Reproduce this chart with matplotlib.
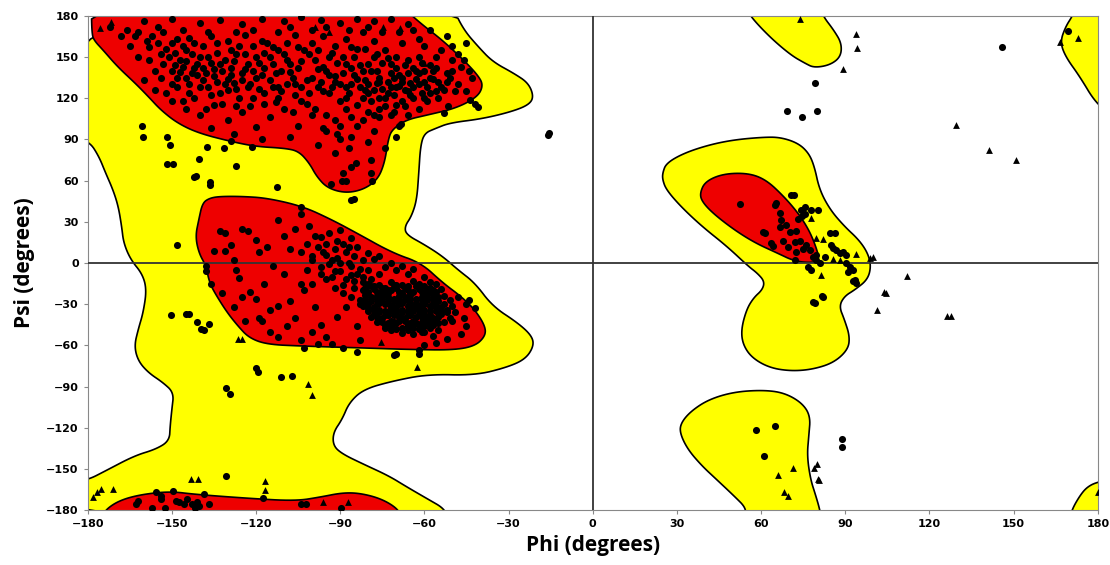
import numpy as np
import matplotlib
matplotlib.use("Agg")
import matplotlib.pyplot as plt
from matplotlib.patches import Polygon

# region outlines (phi, psi)
yellow_left = [(-185, 185), (-49.7, 185), (-45.9, 169.6), (-40.8, 157.5), (-35.7, 146.6), (-28, 138),
               (-22.9, 131), (-21, 121), (-22.9, 115), (-29.3, 110), (-39.5, 105), (-51, 102), (-56, 98),
               (-60, 94.5), (-61.4, 85), (-62, 65.5), (-62.7, 46), (-64.6, 34), (-67, 26.7), (-66.5, 20.7),
               (-60, 13.4), (-53.6, 5), (-48, -5), (-42, -14.5), (-35.7, -31.5), (-26.7, -43.6),
               (-21.7, -53), (-21, -60.5), (-24, -70), (-30.6, -76), (-42, -81.8), (-58.7, -81),
               (-71.4, -86), (-81.7, -92), (-86.8, -101.7), (-89.3, -113.8), (-92.5, -123.5),
               (-92.5, -133), (-89.3, -139), (-81.7, -146.5), (-72.7, -155), (-66.3, -163), (-58.7, -172),
               (-53, -178.7), (-51.6, -186), (-186, -186), (-186, -159), (-180, -158), (-173.6, -151.3),
               (-163.4, -140.4), (-155.7, -135.6), (-150.9, -129.5), (-150.6, -118.6), (-150, -106.5),
               (-149.3, -94.4), (-153.2, -87), (-158.3, -80), (-162, -71.4), (-163.4, -60.5), (-162, -48.4),
               (-160.2, -36), (-159, -19.4), (-160.5, -8), (-164.7, 2.5), (-167.2, 14.6), (-167.9, 26.7),
               (-169.1, 41.3), (-171, 53.4), (-173.6, 65.5), (-176, 77.6), (-179.4, 88.5), (-186, 92)]
red_beta = [(-178.7, 186), (-178.5, 167), (-177.7, 162), (-174.5, 155), (-169.4, 143), (-163, 130.8),
            (-158.3, 121), (-154, 111.5), (-148, 101.8), (-140.4, 94.5), (-129, 88.5), (-120, 84.8),
            (-109.8, 83.6), (-104.8, 81.4), (-101, 72.7), (-98.4, 63), (-94.6, 54.6), (-88.2, 50.9),
            (-81.8, 53.4), (-76.7, 60.6), (-74.2, 72.7), (-72.9, 89.7), (-71.6, 97), (-66.6, 104.2),
            (-58.9, 107.8), (-48.7, 112.7), (-41, 121), (-39, 129.6), (-41, 136.9), (-46, 147.8),
            (-53.6, 162.3), (-61.3, 174.4), (-67.6, 186)]
red_alpha = [(-136.5, 47.3), (-139.1, 43.7), (-140.4, 31.6), (-141.6, 19.5), (-140.4, 7.4), (-137.8, -2.3),
             (-136.6, -14.5), (-134, -24.2), (-130.2, -36.3), (-126.4, -46), (-122.5, -54.5),
             (-116.1, -59.3), (-103.4, -60.5), (-84.2, -61.7), (-65, -63), (-49.8, -63.4), (-42, -60.5),
             (-38.3, -53.3), (-38.3, -46), (-42, -34), (-47, -24.2), (-53.4, -14.5), (-61.2, 0.1),
             (-71.4, 7.4), (-84.2, 21.9), (-93.1, 31.6), (-103.4, 41.3), (-116.1, 47.3), (-125, 48.5),
             (-132.7, 48.5)]
red_bottom = [(-175, -186), (-173.6, -179.5), (-168.5, -172.7), (-160.8, -168.5), (-150.6, -166.3),
              (-141.6, -168.5), (-122.5, -171.4), (-105.9, -173.3), (-97, -170.4), (-89.3, -167.3),
              (-82.9, -167.6), (-75.3, -171.7), (-69.5, -178.9), (-68, -186)]
yellow_top_mid = [(55, 186), (56, 180), (63, 164.7), (70.6, 151.4), (75.7, 145.4), (78.9, 142.2),
                  (84.6, 144.2), (88.4, 150.2), (88.7, 160), (85.9, 169.6), (82, 180), (81.5, 186)]
yellow_lh = [(24.9, 60.6), (24.9, 65.5), (26.2, 72.7), (32.5, 80), (41.4, 86), (50.3, 89.7), (60.5, 91.6),
             (66.8, 91.6), (73.2, 87.3), (77, 80), (79, 70.3), (80.8, 53.4), (84.6, 38.8), (89.7, 26.7),
             (94.8, 17), (98, 7.4), (99.2, -2.3), (98, -12), (93.5, -19.4), (89.7, -24.2), (87.8, -31.5),
             (89.7, -41.2), (91.6, -53.3), (91, -63), (85.9, -72.6), (78.3, -77.5), (70.6, -78.7),
             (63, -76.3), (56.7, -69), (53.5, -59.3), (52.9, -48.4), (54.8, -33.9), (57.3, -25.4),
             (60.5, -19.4), (61.2, -13.3), (58.6, -7.3), (55.4, -2.3), (47.8, 12.2), (38.9, 26.7),
             (31.3, 41.3), (26.2, 53.4)]
red_lh = [(38.2, 50.9), (40.1, 59.4), (46.5, 65), (55.4, 65.5), (61.8, 60.6), (68.1, 48.5), (73.2, 36.4),
          (77, 24.3), (79.5, 12.2), (80.8, 2.5), (78.3, 0.1), (71.9, 1.3), (65.6, 7.4), (57.9, 14.6),
          (50.3, 24.3), (42.7, 36.4), (38.9, 44.9)]
yellow_low_mid = [(54, -186), (54.8, -178.7), (50.3, -169.5), (44, -157.4), (38.9, -147.7), (33.8, -135.6),
                  (31, -123.5), (31.5, -116.2), (35.1, -107.7), (41.4, -99.3), (50.3, -93.9), (60.5, -92.5),
                  (68.1, -94.4), (74.5, -101.7), (77.6, -111.4), (77, -125.9), (76.4, -140.4),
                  (77.6, -157.4), (79.5, -169.5), (80.8, -178.7), (81.5, -186)]
yellow_top_right = [(172, 186), (171, 180), (168.5, 172), (166.6, 161), (168.5, 150.2), (173.6, 135.7),
                    (179.3, 116.3), (186, 106), (186, 186)]
yellow_bot_right = [(170, -186), (171, -178.7), (173.6, -169.5), (176, -163.5), (179.3, -159.8),
                    (186, -157), (186, -186)]

# residues: circles (general) and triangles (glycine)
beta_pts = [(-172, 172), (-168, 165), (-160, 176), (-155, 172), (-150, 178), (-146, 170), (-140, 175),
            (-133, 177), (-125, 174), (-118, 178), (-110, 176), (-104, 179), (-97, 177), (-90, 175),
            (-84, 178), (-78, 176), (-72, 178), (-66, 174), (-165, 158), (-162, 150), (-158, 157),
            (-154, 152), (-150, 160), (-147, 148), (-145, 155), (-142, 142), (-140, 150), (-138, 138),
            (-136, 146), (-134, 153), (-132, 140), (-130, 134), (-128, 147), (-126, 158), (-124, 141),
            (-122, 130), (-120, 150), (-118, 137), (-116, 160), (-114, 145), (-112, 128), (-110, 152),
            (-108, 139), (-106, 122), (-104, 147), (-102, 133), (-100, 160), (-98, 141), (-96, 125),
            (-94, 150), (-92, 136), (-90, 118), (-88, 145), (-86, 130), (-84, 156), (-82, 140), (-80, 124),
            (-78, 150), (-76, 135), (-74, 114), (-72, 145), (-70, 128), (-68, 160), (-66, 138), (-64, 120),
            (-62, 150), (-60, 132), (-58, 144), (-56, 125), (-54, 155), (-52, 138), (-50, 148), (-48, 130),
            (-47, 143), (-45, 125), (-150, 140), (-148, 135), (-146, 143), (-144, 130), (-143, 138),
            (-141, 145), (-139, 133), (-137, 128), (-135, 141), (-133, 124), (-131, 148), (-129, 137),
            (-127, 127), (-125, 133), (-123, 145), (-121, 120), (-119, 127), (-117, 142), (-115, 133),
            (-113, 117), (-111, 140), (-109, 130), (-85, 137), (-83, 128), (-81, 133), (-79, 118),
            (-77, 140), (-75, 127), (-73, 132), (-71, 122), (-69, 137), (-67, 126), (-65, 131), (-63, 140),
            (-61, 124), (-59, 118), (-57, 134), (-80, 145), (-76, 120), (-72, 138), (-68, 118), (-64, 128),
            (-70, 150), (-74, 155), (-78, 162), (-82, 168), (-88, 163), (-92, 158), (-96, 165), (-100, 170),
            (-106, 166), (-112, 168), (-118, 162), (-124, 166), (-130, 162), (-136, 165), (-142, 160),
            (-148, 163), (-150, 118), (-145, 112), (-140, 108), (-135, 115), (-130, 104), (-125, 110),
            (-120, 99), (-115, 106), (-110, 112), (-105, 100), (-100, 108), (-95, 96), (-92, 104), (-88, 112),
            (-86, 92), (-84, 100), (-80, 88), (-78, 96), (-76, 106), (-74, 84), (-70, 92), (-66, 108),
            (-62, 112), (-136, 98), (-128, 94), (-118, 90), (-108, 92), (-98, 86), (-90, 90), (-156, 126),
            (-160, 133), (-152, 124), (-142, 120), (-132, 116), (-122, 114), (-112, 120), (-102, 116),
            (-94, 124), (-48, 152), (-46, 148), (-44, 140), (-43, 135), (-45, 160), (-52, 165), (-58, 170),
            (-62, 163), (-96, 143), (-94, 137), (-90, 130), (-86, 142), (-100, 135), (-104, 128),
            (-108, 145), (-112, 155), (-153, 145), (-151, 150), (-149, 144), (-147, 139), (-145, 147),
            (-143, 152), (-141, 137), (-139, 142), (-137, 150), (-135, 136), (-133, 145), (-131, 130),
            (-129, 142), (-127, 152), (-125, 138), (-123, 128), (-121, 140), (-119, 146), (-117, 124),
            (-115, 150), (-113, 138), (-111, 125), (-109, 148), (-107, 135), (-105, 142), (-103, 155),
            (-101, 124), (-99, 148), (-97, 132), (-95, 140), (-93, 128), (-91, 146), (-89, 138), (-87, 124),
            (-85, 150), (-83, 144), (-81, 126), (-79, 140), (-77, 131), (-75, 146), (-73, 124), (-71, 135),
            (-69, 129), (-67, 144), (-65, 122), (-63, 134), (-61, 146), (-59, 128), (-57, 140), (-55, 132),
            (-53, 126), (-51, 135), (-88, 120), (-84, 115), (-80, 110), (-76, 112), (-72, 108), (-82, 120),
            (-78, 126), (-74, 120), (-70, 115), (-66, 125), (-62, 130), (-58, 124), (-140, 128), (-136, 122),
            (-130, 126), (-126, 120), (-144, 124), (-148, 128), (-156, 140), (-158, 148), (-163, 165),
            (-157, 165), (-153, 168), (-137, 168), (-127, 168), (-121, 170), (-108, 172), (-95, 172),
            (-87, 170), (-80, 172), (-75, 168), (-69, 168), (-64, 170), (-60, 158), (-56, 150), (-50, 158),
            (-96, 98), (-91, 94), (-87, 84), (-92, 80), (-86, 70),
            (-166, 170), (-162, 168), (-159, 162), (-155, 160), (-152, 156), (-149, 153), (-146, 158),
            (-144, 164), (-139, 158), (-134, 160), (-129, 155), (-124, 152), (-121, 158), (-117, 153),
            (-114, 157), (-109, 160), (-105, 157), (-101, 152), (-98, 155), (-93, 153), (-89, 150),
            (-86, 157), (-81, 156), (-77, 152), (-73, 149), (-70, 142), (-68, 135), (-66, 148), (-64, 142),
            (-62, 138), (-60, 140), (-58, 135), (-56, 142), (-54, 128), (-52, 132), (-50, 140), (-49, 125),
            (-55, 120), (-60, 120), (-67, 114), (-71, 110), (-78, 108), (-86, 106), (-82, 104), (-90, 100),
            (-95, 108), (-99, 112), (-104, 118), (-107, 110), (-117, 116), (-127, 114), (-138, 112),
            (-146, 118), (-150, 130), (-154, 135), (-145, 135), (-134, 132), (-128, 131), (-120, 135),
            (-114, 128), (-106, 130), (-98, 128), (-92, 132), (-88, 128), (-84, 134), (-80, 130), (-76, 132),
            (-72, 128), (-68, 132),
            (-160.8, 99.9), (-160.2, 91.6), (-151.9, 92.1), (-150.6, 85.6),
            (-151.9, 71.8), (-149.6, 71.8), (-140.4, 75.6), (-142, 62.8), (-141.3, 63.3), (-136.3, 58.7),
            (-136.3, 56.5), (-137.5, 84.8), (-131.5, 83.4), (-127.3, 71), (-128.9, 88.7), (-121.3, 84.6),
            (-112.6, 55.1), (-86.1, 46.1), (-85, 46.6), (-93.2, 57.7), (-89.3, 59.4), (-88, 59.4),
            (-84.2, 72.7), (-79.1, 75.2), (-79.1, 65.5), (-78.5, 59.4), (-89.1, 65.7), (-68.9, 99.9),
            (-68.3, 101.3), (-52.9, 109.1), (-51.6, 114.4), (-42.1, 115.8), (-40.8, 113.4), (-43.9, 118.7),
            (-148.3, 13.4), (-16, 93), (-15.5, 95)]
alpha_pts = [(-133, 23), (-131, 22), (-135, 9), (-131, 9), (-129, 13), (-125, 25), (-123, 23), (-120, 17),
             (-119, 8), (-112, 31), (-104, 41), (-104, 36), (-106, 25), (-101, 27), (-97, 19), (-95, 14),
             (-90, 24), (-86, 18), (-89, 14), (-138, -2), (-138, -6), (-136, -15), (-132, -22), (-128, -32),
             (-127, -5), (-126, -11), (-122, -21), (-124, -42), (-119, -40), (-118, -42), (-115, -34),
             (-112, -31), (-112, -54), (-108, -28), (-106, -40), (-104, -56), (-104, -15), (-103, -20),
             (-100, -15), (-99, -32), (-97, -45), (-95, -54), (-93, -59), (-91, -39), (-88, -32), (-84, -46),
             (-83, -56), (-116, 12), (-110, 20), (-108, 10), (-100, 5), (-96, 8), (-93, 2), (-92, -6),
             (-97, -3), (-102, -5), (-110, -8), (-114, -2), (-117, -15), (-120, -26), (-128, 2), (-125, -25),
             (-109, -46), (-100, -50), (-115, -50), (-92, 10), (-88, 8), (-85, 5), (-90, 0), (-86, -2),
             (-82, 2), (-84, -8), (-80, -5), (-78, 3), (-76, -8), (-88, -12), (-85, -18), (-82, -14),
             (-79, -12), (-95, -12), (-92, -18), (-89, -22), (-86, -25), (-83, -30), (-80, 7), (-76, 5),
             (-72, 0), (-70, -5), (-74, -3), (-68, -2), (-66, -8), (-64, -4), (-60, -10), (-62, -15),
             (-58, -14), (-80, -15), (-76, -16), (-72, -14), (-68, -16), (-64, -13), (-60, -17), (-56, -15),
             (-82, -20), (-78, -19), (-74, -21), (-70, -18), (-66, -20), (-62, -19), (-58, -21), (-54, -19),
             (-81, -23), (-77, -24), (-73, -22), (-69, -24), (-65, -23), (-61, -25), (-57, -23), (-53, -24),
             (-83, -27), (-79, -28), (-75, -26), (-71, -28), (-67, -27), (-63, -29), (-59, -27), (-55, -28),
             (-51, -27), (-82, -31), (-78, -32), (-74, -30), (-70, -32), (-66, -31), (-62, -33), (-58, -31),
             (-54, -32), (-50, -31), (-80, -35), (-76, -36), (-72, -34), (-68, -36), (-64, -35), (-60, -37),
             (-56, -35), (-52, -36), (-79, -39), (-75, -40), (-71, -38), (-67, -40), (-63, -39), (-59, -41),
             (-55, -39), (-51, -40), (-77, -43), (-73, -44), (-69, -42), (-65, -44), (-61, -43), (-57, -45),
             (-53, -43), (-74, -47), (-70, -48), (-66, -46), (-62, -48), (-58, -47), (-55, -49), (-68, -51),
             (-64, -52), (-60, -50), (-57, -53), (-48, -25), (-45, -30), (-44, -27), (-42, -33), (-46, -40),
             (-45, -46), (-50, -42), (-49, -36), (-47, -52), (-52, -55), (-56, -58), (-60, -60), (-62, -63),
             (-62, -66), (-84, -65), (-70, -66), (-71, -67), (-103, -62), (-89, -62), (-98, -59),
             (-78, -17), (-74, -18), (-70, -16), (-66, -17), (-62, -16), (-58, -18), (-80, -21), (-76, -22),
             (-72, -20), (-68, -22), (-64, -21), (-60, -22), (-56, -21), (-79, -25), (-75, -24), (-71, -26),
             (-67, -25), (-63, -26), (-59, -25), (-55, -25), (-81, -29), (-77, -30), (-73, -28), (-69, -30),
             (-65, -29), (-61, -30), (-57, -29), (-53, -30), (-80, -33), (-76, -34), (-72, -33), (-68, -34),
             (-64, -33), (-60, -34), (-56, -33), (-52, -34), (-78, -37), (-74, -38), (-70, -36), (-66, -38),
             (-62, -37), (-58, -38), (-54, -37), (-76, -41), (-72, -42), (-68, -40), (-64, -42), (-60, -41),
             (-56, -42), (-74, -45), (-70, -44), (-66, -45), (-62, -45), (-58, -44), (-72, -49), (-66, -49),
             (-61, -50), (-79, -17), (-75, -18), (-71, -16), (-67, -18), (-63, -17), (-59, -19), (-77, -21),
             (-73, -20), (-69, -21), (-65, -22), (-61, -21), (-57, -20), (-81, -26), (-77, -26), (-73, -25),
             (-69, -27), (-65, -26), (-61, -27), (-57, -26), (-80, -30), (-76, -29), (-72, -31), (-68, -29),
             (-64, -31), (-60, -30), (-56, -31), (-78, -34), (-74, -35), (-70, -34), (-66, -35), (-62, -34),
             (-58, -35), (-54, -34), (-77, -39), (-73, -38), (-69, -39), (-65, -38), (-61, -39), (-57, -40),
             (-75, -43), (-71, -43), (-67, -42), (-63, -44), (-59, -43), (-55, -44), (-72, -46), (-68, -47),
             (-64, -47), (-60, -46),
             (-98, 12), (-95, 6), (-91, 4), (-87, 0), (-83, -4), (-94, -1), (-90, -6), (-86, -9),
             (-82, -10), (-89, -16), (-85, -13), (-81, -18), (-100, 2), (-97, -8), (-93, -10), (-104, 8),
             (-102, 14), (-99, 20), (-94, 22), (-91, 16), (-87, 12), (-84, 12),
             (-150.2, -37.5), (-144.8, -36.8), (-143.8, -36.8), (-141, -43), (-139.7, -48.4), (-138.5, -49),
             (-136.6, -44.3), (-130.6, -91.3), (-129.3, -95.6), (-120, -76.7), (-119.4, -79.4), (-111, -83),
             (-107.2, -82.6)]
bottom_pts = [(-130.8, -155.4), (-162.8, -175.5), (-162.2, -173.6), (-155.7, -166.6), (-153.8, -169.5),
              (-153.8, -171.9), (-149.6, -165.9), (-148.7, -173.1), (-147.4, -173.8), (-145.8, -175.5),
              (-144.5, -171.9), (-143, -175.5), (-141, -174.3), (-140.4, -176.7), (-138.5, -168.5),
              (-136.6, -175.5), (-157, -178.7), (-152.5, -178.2), (-141.7, -178.2), (-117.4, -171.4),
              (-104, -175.5), (-102.3, -175.5), (-89.6, -178.7)]
right_pts = [(79.3, 131.1), (69.4, 110.8), (74.6, 106.2), (80, 110.8), (145.9, 157.2), (169.4, 169.1),
             (52.6, 42.7), (70.8, 49.6), (71.8, 49.6), (65.4, 43.9), (65, 42), (66.6, 36.2), (67.2, 31.3),
             (66.6, 26.5), (69, 28), (70.2, 22.8), (72.5, 23.5), (72, 15.5), (73.8, 16.3), (74.3, 38.6),
             (75.5, 41), (75.8, 36), (74.5, 34), (73.3, 32), (77.9, 38.6), (80.2, 38.6), (60.7, 22.8),
             (61.5, 21.5), (63.6, 14.4), (64.4, 12.5), (67.8, 16), (69.6, 11.4), (72.5, 8.2), (74.8, 10),
             (76.1, 13.1), (77.3, 9.5), (72, 2.2), (78.5, 4.6), (79.7, 5.8), (76.7, -2.7), (77.9, -5),
             (79.7, 2.2), (80.9, 0), (82.6, 4.6), (85, 13.1), (85.6, 10.6), (86.8, 9.4), (88, 7), (89.2, 8.2),
             (90.4, 6), (84.4, 22.1), (86.2, 22.1), (90.4, -0.2), (91.6, -2.6), (92.8, -5), (91, -6.2),
             (93.3, -12.4), (93.9, -14.8), (82, -24.6), (79.1, -29.4), (81.7, -24.2), (78.5, -28.6),
             (92.9, -13.3), (58.3, -121.8), (65.1, -118.6), (61.1, -140.4), (88.8, -128.3), (88.8, -133.7)]
gly_pts = [(-175.5, 170.8), (-171.7, 175.6), (-74.8, 171.8), (-68.8, 171.3), (-99, 172), (-94, 168),
           (-60, 146), (-126.4, -55.2), (-125, -55.7), (-75.4, -57.4), (-62.5, -75.5), (-101.5, -88.4),
           (-100, -96), (-178.1, -170.2), (-176.8, -166.6), (-175.1, -164.6), (-171, -164.6),
           (-143.3, -157.4), (-140.7, -157.4), (-116.7, -159), (-116.8, -165.4), (-96, -174.3),
           (-87.4, -174.3), (73.8, 178), (93.8, 166.4), (94.2, 156.3), (89.2, 141.3), (129.4, 100.8),
           (141.2, 82.2), (150.7, 74.9), (172.9, 164), (166.7, 161.1), (81.5, -8.7), (79.7, 18),
           (82.1, 17.2), (88, 2.2), (85.5, 3), (99.9, 4.6), (98.7, 3.4), (93.8, 6.5), (77.9, 32.6),
           (104.6, -21.6), (101.4, -34.3), (112, -9.7), (103.7, -21.1), (126.3, -38.3), (127.6, -38.3),
           (71.4, -149), (66.1, -154.2), (68.1, -166.6), (69.6, -169.5), (80, -146), (78.9, -149.6),
           (80.3, -157), (80.7, -157.8), (179.9, -166.6)]

ticks = [-180, -150, -120, -90, -60, -30, 0, 30, 60, 90, 120, 150, 180]


def smooth(pts, n=3):
    # corner cutting so the outlines look like smooth contours
    p = np.array(pts, dtype=float)
    for _ in range(n):
        q = np.roll(p, -1, axis=0)
        p = np.stack([0.75 * p + 0.25 * q, 0.25 * p + 0.75 * q], axis=1).reshape(-1, 2)
    return p


fig = plt.figure(figsize=(11.1, 5.65), dpi=100)
ax = fig.add_axes([0.079, 0.097, 0.910, 0.875])

for shape in [yellow_left, yellow_top_mid, yellow_lh, yellow_low_mid, yellow_top_right, yellow_bot_right]:
    ax.add_patch(Polygon(smooth(shape), closed=True, fc='#FFFF00', ec='black', lw=1.2, zorder=1))
for shape in [red_beta, red_alpha, red_bottom, red_lh]:
    ax.add_patch(Polygon(smooth(shape), closed=True, fc='#EE0000', ec='black', lw=1.2, zorder=2))

ax.axhline(0, color='#333333', lw=1.3, zorder=3)
ax.axvline(0, color='#333333', lw=1.3, zorder=3)

circ = np.array(beta_pts + alpha_pts + bottom_pts + right_pts)
ax.scatter(circ[:, 0], circ[:, 1], s=26, c='black', marker='o', linewidths=0, zorder=4)
gly = np.array(gly_pts)
ax.scatter(gly[:, 0], gly[:, 1], s=24, c='black', marker='^', linewidths=0, zorder=4)

ax.set_xlim(-180, 180)
ax.set_ylim(-180, 180)
ax.set_xticks(ticks)
ax.set_yticks(ticks)
ax.tick_params(labelsize=8, length=3, color='#888888')
for lab in ax.get_xticklabels() + ax.get_yticklabels():
    lab.set_fontweight('bold')
for sp in ax.spines.values():
    sp.set_color('#888888')
ax.set_xlabel('Phi (degrees)', fontsize=15, fontweight='bold', family='Open Sans', labelpad=4)
ax.set_ylabel('Psi (degrees)', fontsize=15, fontweight='bold', family='Open Sans', labelpad=8)

fig.savefig('out.png', dpi=100)
